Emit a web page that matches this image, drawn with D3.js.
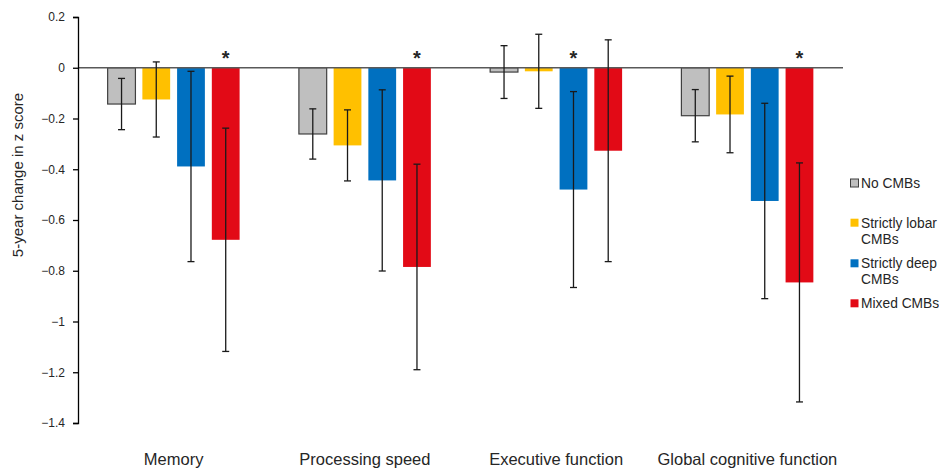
<!DOCTYPE html>
<html>
<head>
<meta charset="utf-8">
<script src="https://cdn.jsdelivr.net/npm/d3@7"></script>
<style>
  body { margin: 0; background: #fff; }
  text { font-family: "Liberation Sans", Arial, sans-serif; fill: #262626; }
</style>
</head>
<body>
<svg id="chart"></svg>
<script>
// Data
const categories = ["Memory", "Processing speed", "Executive function", "Global cognitive function"];
const series = ["No CMBs", "Strictly lobar CMBs", "Strictly deep CMBs", "Mixed CMBs"];
const colors = ["#bfbfbf", "#ffc000", "#0070c0", "#e20a16"];
// mean change per category, one array per series
const noCmb = [-0.143, -0.261, -0.017, -0.189];
const lobar = [-0.125, -0.306, -0.014, -0.184];
const deep = [-0.389, -0.444, -0.480, -0.525];
const mixed = [-0.678, -0.785, -0.327, -0.846];
// half-width of error bars
const noCmbErr = [0.101, 0.099, 0.104, 0.103];
const lobarErr = [0.148, 0.140, 0.146, 0.151];
const deepErr = [0.375, 0.357, 0.386, 0.385];
const mixedErr = [0.440, 0.405, 0.437, 0.471];
// which series gets the asterisk per category
const starred = ["Mixed CMBs", "Mixed CMBs", "Strictly deep CMBs", "Mixed CMBs"];
const yTicks = [0.2, 0, -0.2, -0.4, -0.6, -0.8, -1, -1.2, -1.4];

const values = [noCmb, lobar, deep, mixed];
const errors = [noCmbErr, lobarErr, deepErr, mixedErr];

const width = 939, height = 469;
const plotLeft = 78, plotRight = 843, plotTop = 17, plotBottom = 423;

const svg = d3.select("#chart")
  .attr("width", width)
  .attr("height", height);

const y = d3.scaleLinear().domain([-1.4, 0.2]).range([plotBottom, plotTop]);

const x = d3.scaleBand()
  .domain(categories)
  .range([plotLeft, plotRight])
  .paddingInner(0.31)
  .paddingOuter(0.155);

const xs = d3.scaleBand()
  .domain(series)
  .range([0, x.bandwidth()])
  .paddingInner(0.2);

// Build flat records for drawing
const records = [];
categories.forEach((c, ci) => {
  series.forEach((s, si) => {
    records.push({ cat: c, ser: s, si: si, v: values[si][ci], e: errors[si][ci], star: starred[ci] === s });
  });
});

// Bars
svg.append("g")
  .selectAll("rect")
  .data(records)
  .join("rect")
  .attr("x", d => x(d.cat) + xs(d.ser))
  .attr("y", d => y(Math.max(0, d.v)))
  .attr("width", xs.bandwidth())
  .attr("height", d => Math.abs(y(d.v) - y(0)))
  .attr("fill", d => colors[d.si])
  .attr("stroke", d => d.si === 0 ? "#404040" : "none")
  .attr("stroke-width", 1.2);

// Zero line
svg.append("line")
  .attr("x1", plotLeft).attr("x2", plotRight)
  .attr("y1", y(0)).attr("y2", y(0))
  .attr("stroke", "#595959")
  .attr("stroke-width", 1.3);

// Error bars
const eg = svg.append("g").attr("stroke", "#1a1a1a").attr("stroke-width", 1.3);
records.forEach(d => {
  const cx = x(d.cat) + xs(d.ser) + xs.bandwidth() / 2;
  eg.append("line").attr("x1", cx).attr("x2", cx).attr("y1", y(d.v + d.e)).attr("y2", y(d.v - d.e));
  [d.v + d.e, d.v - d.e].forEach(val => {
    eg.append("line").attr("x1", cx - 3.5).attr("x2", cx + 3.5).attr("y1", y(val)).attr("y2", y(val));
  });
});

// Asterisks
svg.append("g")
  .selectAll("text")
  .data(records.filter(d => d.star))
  .join("text")
  .attr("x", d => x(d.cat) + xs(d.ser) + xs.bandwidth() / 2)
  .attr("y", y(0) - 3)
  .attr("text-anchor", "middle")
  .attr("font-size", "20px")
  .attr("font-weight", "bold")
  .text("*");

// Y axis
const yAxis = d3.axisLeft(y)
  .tickValues(yTicks)
  .tickSize(5)
  .tickFormat(d => d3.format("")(+d.toFixed(1)));

const ya = svg.append("g")
  .attr("transform", `translate(${plotLeft},0)`)
  .call(yAxis);
ya.select(".domain").attr("stroke", "#000").attr("stroke-width", 1.3);
ya.selectAll(".tick line").attr("stroke", "#000").attr("stroke-width", 1.3);
ya.selectAll(".tick text")
  .attr("font-size", "12px")
  .attr("font-family", "Liberation Sans, Arial, sans-serif")
  .attr("fill", "#262626")
  .attr("x", -13);

// Y axis title
svg.append("text")
  .attr("transform", "translate(23,175) rotate(-90)")
  .attr("text-anchor", "middle")
  .attr("font-size", "15px")
  .text("5-year change in z score");

// Category labels
svg.append("g")
  .selectAll("text")
  .data(categories)
  .join("text")
  .attr("x", d => x(d) + x.bandwidth() / 2)
  .attr("y", 465)
  .attr("text-anchor", "middle")
  .attr("font-size", "16.5px")
  .text(d => d);

// Legend
const legendY = [183, 222.7, 263.3, 303.3];
const legendLines = [["No CMBs"], ["Strictly lobar", "CMBs"], ["Strictly deep", "CMBs"], ["Mixed CMBs"]];
const lg = svg.append("g");
series.forEach((s, i) => {
  lg.append("rect")
    .attr("x", 850.5).attr("y", legendY[i] - 4)
    .attr("width", 8).attr("height", 8)
    .attr("fill", colors[i])
    .attr("stroke", i === 0 ? "#404040" : "none")
    .attr("stroke-width", 1);
  legendLines[i].forEach((t, j) => {
    lg.append("text")
      .attr("x", 861).attr("y", legendY[i] + 5 + j * 16)
      .attr("font-size", "13.8px")
      .text(t);
  });
});
</script>
</body>
</html>
